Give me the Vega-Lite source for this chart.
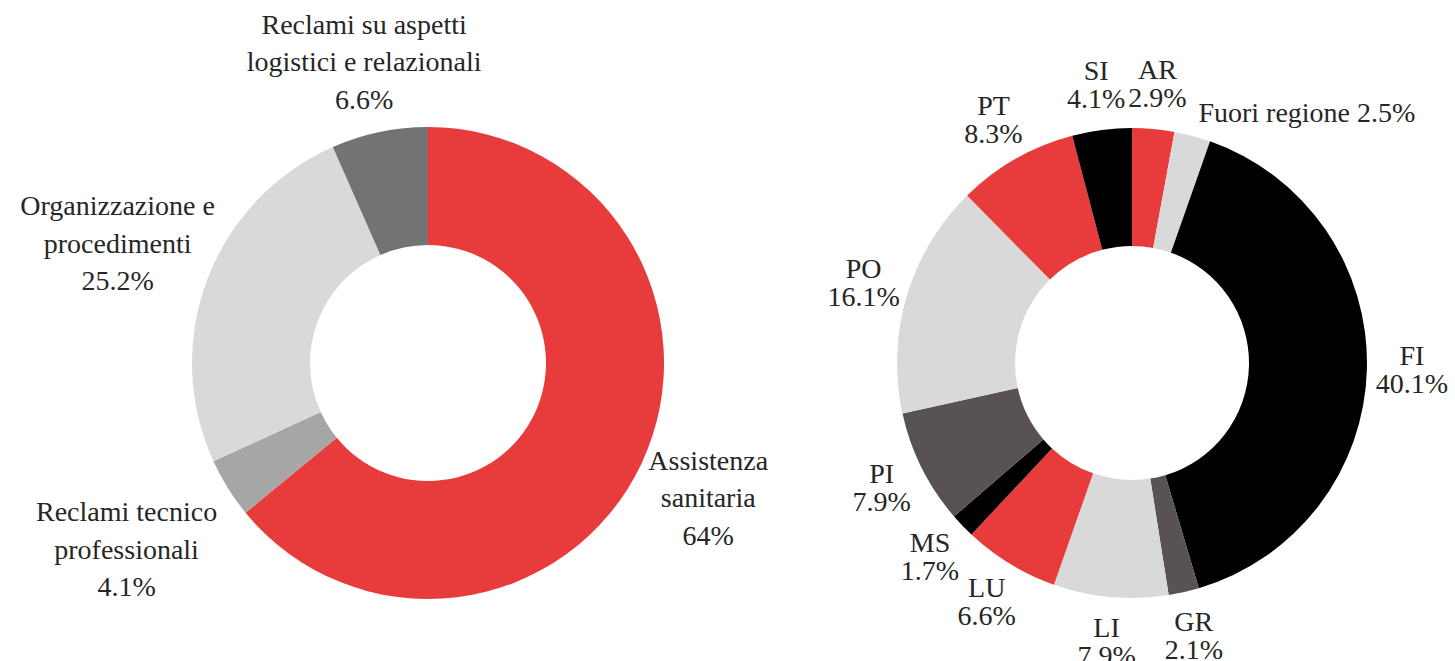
{
  "$schema": "https://vega.github.io/schema/vega-lite/v6.json",
  "padding": 0,
  "spacing": 0,
  "bounds": "flush",
  "resolve": {"scale": {"color": "independent", "theta": "independent"}},
  "config": {"view": {"stroke": null}, "text": {"font": "Liberation Serif", "fontSize": 28, "color": "#262626"}},
  "hconcat": [
    {
      "width": 856,
      "height": 726,
      "data": {"values": [
        {"idx": 1, "name": "Assistenza sanitaria", "value": 64, "label": "Assistenza\nsanitaria\n64%"},
        {"idx": 2, "name": "Reclami tecnico professionali", "value": 4.1, "label": "Reclami tecnico\nprofessionali\n4.1%"},
        {"idx": 3, "name": "Organizzazione e procedimenti", "value": 25.2, "label": "Organizzazione e\nprocedimenti\n25.2%"},
        {"idx": 4, "name": "Reclami su aspetti logistici e relazionali", "value": 6.6, "label": "Reclami su aspetti\nlogistici e relazionali\n6.6%"}
      ]},
      "encoding": {
        "theta": {"field": "value", "type": "quantitative", "stack": true},
        "order": {"field": "idx", "type": "quantitative"}
      },
      "layer": [
        {
          "mark": {"type": "arc", "outerRadius": 236, "innerRadius": 118},
          "encoding": {
            "color": {"field": "name", "type": "nominal", "legend": null,
              "scale": {"domain": ["Assistenza sanitaria", "Reclami tecnico professionali", "Organizzazione e procedimenti", "Reclami su aspetti logistici e relazionali"],
                        "range": ["#E83B3B", "#A6A6A6", "#D9D9D9", "#737373"]}}
          }
        },
        {
          "mark": {"type": "text", "radius": 310, "align": "center", "baseline": "top", "lineBreak": "\n", "lineHeight": 37.5, "dy": -48},
          "encoding": {
            "text": {"condition": {"test": "datum.idx == 2 || datum.idx == 3", "value": ""}, "field": "label"},
            "detail": {"field": "name"}
          }
        },
        {
          "mark": {"type": "text", "radius": 300, "align": "center", "baseline": "top", "lineBreak": "\n", "lineHeight": 37.5, "dx": -30, "dy": -63},
          "encoding": {
            "text": {"condition": {"test": "datum.idx != 3", "value": ""}, "field": "label"},
            "detail": {"field": "name"}
          }
        },
        {
          "mark": {"type": "text", "radius": 320, "align": "center", "baseline": "top", "lineBreak": "\n", "lineHeight": 37.5, "dx": -30, "dy": -33},
          "encoding": {
            "text": {"condition": {"test": "datum.idx != 2", "value": ""}, "field": "label"},
            "detail": {"field": "name"}
          }
        }
      ]
    },
    {
      "width": 552,
      "height": 726,
      "data": {"values": [
        {"idx": 1, "name": "AR", "value": 2.9, "label": "AR\n2.9%"},
        {"idx": 2, "name": "Fuori regione", "value": 2.5, "label": "Fuori regione 2.5%"},
        {"idx": 3, "name": "FI", "value": 40.1, "label": "FI\n40.1%"},
        {"idx": 4, "name": "GR", "value": 2.1, "label": "GR\n2.1%"},
        {"idx": 5, "name": "LI", "value": 7.9, "label": "LI\n7.9%"},
        {"idx": 6, "name": "LU", "value": 6.6, "label": "LU\n6.6%"},
        {"idx": 7, "name": "MS", "value": 1.7, "label": "MS\n1.7%"},
        {"idx": 8, "name": "PI", "value": 7.9, "label": "PI\n7.9%"},
        {"idx": 9, "name": "PO", "value": 16.1, "label": "PO\n16.1%"},
        {"idx": 10, "name": "PT", "value": 8.3, "label": "PT\n8.3%"},
        {"idx": 11, "name": "SI", "value": 4.1, "label": "SI\n4.1%"}
      ]},
      "encoding": {
        "theta": {"field": "value", "type": "quantitative", "stack": true},
        "order": {"field": "idx", "type": "quantitative"}
      },
      "layer": [
        {
          "mark": {"type": "arc", "outerRadius": 235, "innerRadius": 117},
          "encoding": {
            "color": {"field": "name", "type": "nominal", "legend": null,
              "scale": {"domain": ["AR", "Fuori regione", "FI", "GR", "LI", "LU", "MS", "PI", "PO", "PT", "SI"],
                        "range": ["#E83B3B", "#D9D9D9", "#000000", "#595252", "#D9D9D9", "#E83B3B", "#000000", "#595252", "#D9D9D9", "#E83B3B", "#000000"]}}
          }
        },
        {
          "mark": {"type": "text", "radius": 280, "align": "center", "baseline": "top", "lineBreak": "\n", "lineHeight": 28, "dy": -27},
          "encoding": {
            "text": {"condition": {"test": "datum.name == 'Fuori regione'", "value": ""}, "field": "label"},
            "detail": {"field": "name"}
          }
        },
        {
          "mark": {"type": "text", "radius": 258, "align": "left", "baseline": "middle"},
          "encoding": {
            "text": {"condition": {"test": "datum.name != 'Fuori regione'", "value": ""}, "field": "label"},
            "detail": {"field": "name"}
          }
        }
      ]
    }
  ]
}
